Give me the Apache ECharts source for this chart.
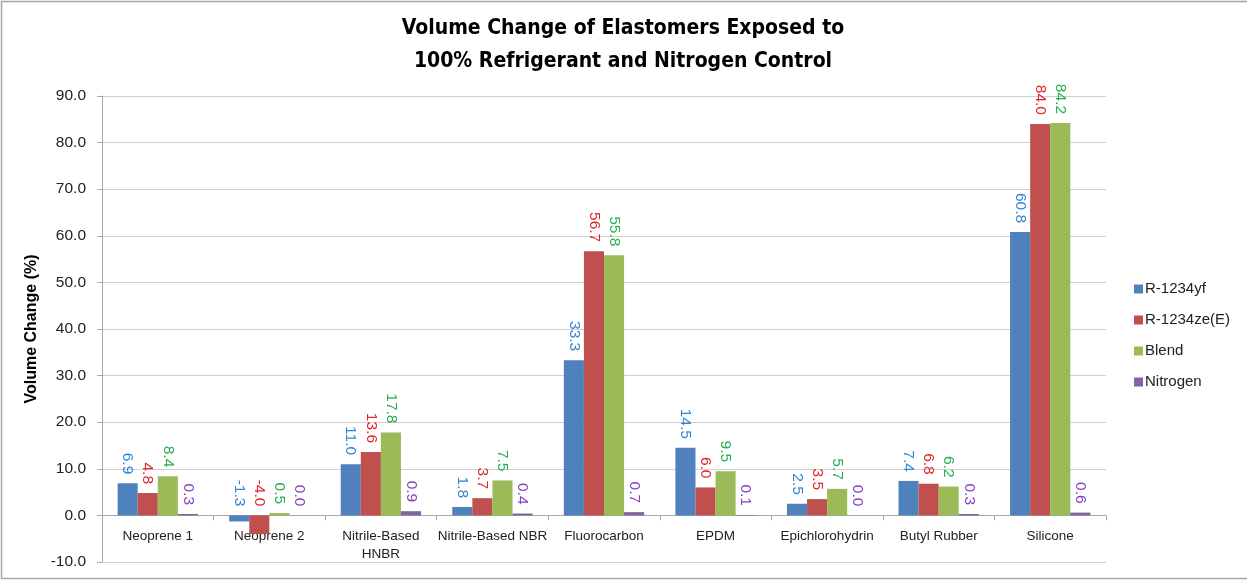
<!DOCTYPE html>
<html>
<head>
<meta charset="utf-8">
<script src="https://cdn.jsdelivr.net/npm/echarts@6/dist/echarts.min.js"></script>
<style>
  html, body { margin: 0; padding: 0; background: #ffffff; }
  #chart { width: 1247px; height: 581px; }
</style>
</head>
<body>
<div id="chart"></div>
<script>
// Elastomer samples along the category axis
const categories = ['Neoprene 1', 'Neoprene 2', 'Nitrile-Based\nHNBR', 'Nitrile-Based NBR',
  'Fluorocarbon', 'EPDM', 'Epichlorohydrin', 'Butyl Rubber', 'Silicone'];

// Volume change (%) per exposure medium
const r1234yf  = [6.9, -1.3, 11.0, 1.8, 33.3, 14.5, 2.5, 7.4, 60.8];
const r1234ze  = [4.8, -4.0, 13.6, 3.7, 56.7, 6.0, 3.5, 6.8, 84.0];
const blend    = [8.4, 0.5, 17.8, 7.5, 55.8, 9.5, 5.7, 6.2, 84.2];
const nitrogen = [0.3, 0.0, 0.9, 0.4, 0.7, 0.1, 0.0, 0.3, 0.6];

// Value axis range
const Y_MIN = -10;
const Y_MAX = 90;
const Y_STEP = 10;

const seriesNames = ['R-1234yf', 'R-1234ze(E)', 'Blend', 'Nitrogen'];
const seriesData = [r1234yf, r1234ze, blend, nitrogen];
const barColors = ['#4F81BD', '#C0504D', '#9BBB59', '#8064A2'];
const labelColors = ['#2E86D6', '#E0262C', '#22B24C', '#8A3EC2'];

const FONT = '"Liberation Sans", Arial, sans-serif';

const GRID_TOP = 96, GRID_BOTTOM = 19, CHART_H = 581;
const plotH = CHART_H - GRID_TOP - GRID_BOTTOM;
// lift the category axis from the grid bottom up to the zero line
const zeroOffset = -plotH * (0 - Y_MIN) / (Y_MAX - Y_MIN);

const chart = echarts.init(document.getElementById('chart'), null, { renderer: 'canvas' });

chart.setOption({
  backgroundColor: '#ffffff',
  animation: false,
  title: {
    text: 'Volume Change of Elastomers Exposed to\n100% Refrigerant and Nitrogen Control',
    left: 618,
    textAlign: 'center',
    top: 7,
    textStyle: {
      fontFamily: '"DejaVu Sans Condensed", sans-serif',
      fontWeight: 'bold',
      fontSize: 21,
      lineHeight: 33,
      color: '#000000'
    }
  },
  legend: {
    orient: 'vertical',
    left: 1129,
    top: 276,
    itemWidth: 9,
    itemHeight: 9,
    itemGap: 15,
    icon: 'rect',
    data: seriesNames,
    textStyle: { fontFamily: FONT, fontSize: 15, lineHeight: 16, color: '#222222', padding: [0, 0, 0, -3] }
  },
  grid: { left: 102, right: 141, top: GRID_TOP, bottom: GRID_BOTTOM, containLabel: false, outerBoundsMode: 'none' },
  xAxis: {
    type: 'category',
    data: categories,
    position: 'bottom',
    offset: zeroOffset,
    axisLine: { onZero: false, lineStyle: { color: '#a6a6a6', width: 1 } },
    axisTick: { show: true, length: 5, lineStyle: { color: '#a6a6a6' } },
    axisLabel: {
      fontFamily: FONT, fontSize: 13.5, color: '#222222', margin: 12,
      lineHeight: 18, interval: 0
    },
    splitLine: { show: false }
  },
  yAxis: {
    type: 'value',
    min: Y_MIN,
    max: Y_MAX,
    interval: Y_STEP,
    name: 'Volume Change (%)',
    nameLocation: 'middle',
    nameGap: 61,
    nameTextStyle: { fontFamily: FONT, fontWeight: 'bold', fontSize: 16, color: '#000000' },
    axisLine: { show: true, lineStyle: { color: '#a6a6a6', width: 1 } },
    axisTick: { show: true, length: 5, lineStyle: { color: '#a6a6a6' } },
    axisLabel: {
      fontFamily: FONT, fontSize: 15.5, color: '#222222', margin: 16,
      formatter: v => v.toFixed(1)
    },
    splitLine: { show: true, lineStyle: { color: '#d0d0d0', width: 1 } }
  },
  series: seriesNames.map((name, i) => ({
    name: name,
    type: 'bar',
    data: seriesData[i],
    barGap: '0%',
    barCategoryGap: '28%',
    itemStyle: { color: barColors[i] },
    label: {
      show: true,
      position: 'top',
      distance: 9,
      rotate: -90,
      align: 'right',
      verticalAlign: 'middle',
      fontFamily: FONT,
      fontSize: 15.5,
      color: labelColors[i],
      formatter: p => p.value.toFixed(1)
    }
  })),
  graphic: [{
    type: 'rect',
    silent: true,
    shape: { x: 1.5, y: 1.5, width: 1270, height: 577 },
    style: { fill: null, stroke: '#a6a6a6', lineWidth: 1.5 }
  }]
});
</script>
</body>
</html>
